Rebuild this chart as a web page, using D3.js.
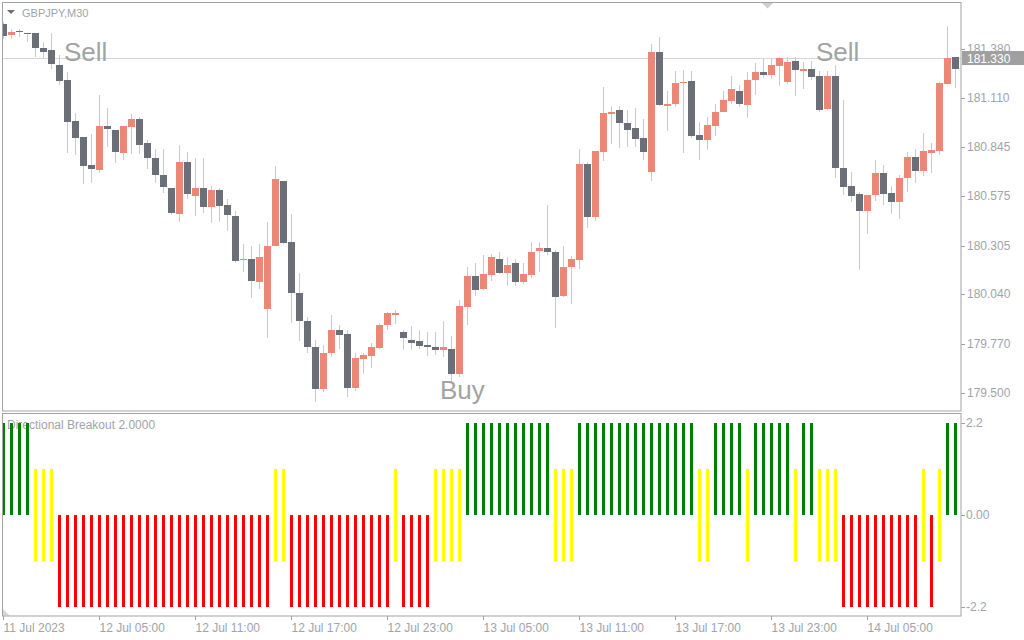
<!DOCTYPE html>
<html><head><meta charset="utf-8">
<script src="https://cdn.jsdelivr.net/npm/d3@7"></script>
<style>
body{margin:0;background:#fff}
svg{display:block}
text{font-family:"Liberation Sans",Arial,sans-serif}
</style>
</head><body>
<svg id="chart" width="1024" height="640"></svg>
<script>
// ---------------- DATA ----------------
const symbolLabel = "GBPJPY,M30";
const indicatorLabel = "Directional Breakout 2.0000";
const firstBarTime = "2023-07-11T23:00";   // M30 bars

const open = [
181.514,181.455,181.481,181.470,181.465,181.388,181.377,181.295,181.208,180.984,
180.898,180.745,180.718,180.957,180.940,180.811,180.953,181.000,180.864,180.787,
180.690,180.623,180.477,180.760,180.576,180.623,180.515,180.612,180.525,180.470,
180.226,180.235,180.106,179.958,180.302,180.661,180.323,180.049,179.896,179.754,
179.521,179.718,179.847,179.820,179.526,179.685,179.701,179.745,179.871,179.924,
179.836,179.787,179.782,179.760,179.754,179.734,179.743,179.603,179.969,180.137,
180.067,180.144,180.235,180.155,180.208,180.106,180.144,180.275,180.290,180.273,
180.029,180.188,180.226,180.754,180.461,180.816,181.024,181.044,180.978,180.946,
180.891,180.707,181.361,181.071,181.082,181.193,181.204,180.909,180.882,180.958,
181.035,181.095,181.153,181.073,181.208,181.257,181.237,181.286,181.199,181.317,
181.259,181.273,181.230,181.051,181.235,180.729,180.629,180.586,180.494,180.581,
180.700,180.592,180.543,180.674,180.789,180.712,180.811,180.822,181.188,181.334];

const high = [
181.525,181.492,181.492,181.470,181.465,181.416,181.470,181.345,181.253,181.028,
180.898,180.913,181.126,181.059,180.940,180.957,181.024,181.006,180.885,180.831,
180.831,180.623,180.858,180.816,180.783,180.783,180.629,180.623,180.558,180.497,
180.312,180.301,180.312,180.437,180.743,180.661,180.476,180.155,179.914,179.787,
179.760,179.924,179.869,179.847,179.716,179.718,179.771,179.882,179.940,179.951,
179.842,179.864,179.842,179.831,179.831,179.896,179.814,180.006,180.188,180.213,
180.252,180.257,180.268,180.241,180.235,180.208,180.323,180.323,180.530,180.279,
180.301,180.246,180.831,180.760,180.820,181.170,181.066,181.071,181.044,181.060,
181.000,181.410,181.443,181.148,181.259,181.263,181.259,180.980,181.007,181.077,
181.149,181.230,181.181,181.257,181.306,181.324,181.324,181.339,181.339,181.339,
181.308,181.312,181.259,181.259,181.295,181.104,180.707,180.597,180.581,180.776,
180.745,180.634,180.690,180.816,180.832,180.920,180.865,181.199,181.505,181.334];

const low = [
181.432,181.432,181.448,181.416,181.335,181.332,181.273,181.181,180.814,180.798,
180.641,180.645,180.705,180.842,180.756,180.776,180.805,180.805,180.725,180.647,
180.592,180.472,180.434,180.558,180.466,180.486,180.428,180.434,180.384,180.213,
180.160,180.018,180.067,179.800,180.302,180.312,179.882,179.783,179.718,179.450,
179.504,179.696,179.739,179.477,179.510,179.603,179.636,179.739,179.843,179.876,
179.734,179.734,179.739,179.701,179.707,179.696,179.554,179.590,179.871,180.029,
180.062,180.111,180.149,180.084,180.084,180.098,180.126,180.160,180.252,179.854,
180.022,179.985,180.177,180.401,180.439,180.767,180.860,180.838,180.843,180.843,
180.772,180.658,181.067,180.931,181.062,180.811,180.891,180.772,180.827,180.907,
181.033,181.082,181.062,181.002,181.126,181.220,181.217,181.179,181.191,181.122,
181.164,181.213,181.038,181.044,180.674,180.583,180.543,180.171,180.368,180.547,
180.525,180.477,180.450,180.597,180.647,180.685,180.701,180.800,181.188,181.166];

const close = [
181.450,181.474,181.472,181.465,181.384,181.366,181.297,181.204,180.980,180.893,
180.740,180.723,180.957,180.942,180.816,180.957,181.000,180.854,180.782,180.690,
180.625,180.483,180.760,180.589,180.623,180.515,180.612,180.521,180.472,180.220,
180.235,180.111,180.241,180.306,180.667,180.319,180.045,179.892,179.750,179.521,
179.721,179.847,179.816,179.526,179.689,179.710,179.754,179.874,179.935,179.935,
179.800,179.772,179.756,179.750,179.734,179.749,179.603,179.973,180.137,180.062,
180.148,180.241,180.155,180.202,180.106,180.148,180.273,180.295,180.270,180.024,
180.186,180.230,180.754,180.461,180.820,181.028,181.038,180.975,180.936,180.887,
180.816,181.361,181.073,181.077,181.195,181.199,180.902,180.882,180.962,181.038,
181.099,181.159,181.078,181.213,181.257,181.237,181.290,181.330,181.308,181.264,
181.273,181.226,181.044,181.235,180.729,180.625,180.579,180.494,180.581,180.700,
180.589,180.543,180.674,180.789,180.712,180.822,180.827,181.193,181.330,181.270];

// Directional Breakout state per bar: G = up breakout, Y = neutral, R = down breakout
const breakoutState = ("GGGG YYY RRRRRRRRRRRRRRRRRRRRRRRRRRR YY RRRRRRRRRRRRR Y RRRR YYYY " +
  "GGGGGGGGGGG YYY GGGGGGGGGGGGGGG YY GGGG Y GGGGG Y GG YYY RRRRRRRRRR Y R Y GG")
  .replace(/ /g, "").split("");
const breakoutUp = 2.2, breakoutNeutral = 1.1, breakoutDown = -2.2;

const bidPrice = 181.330;
const priceTicks = [181.380, 181.110, 180.845, 180.575, 180.305, 180.040, 179.770, 179.500];
const indTicks = [2.2, 0, -2.2];
const indTickLabels = ["2.2", "0.00", "-2.2"];
const timeTicks = ["2023-07-11T23:00","2023-07-12T05:00","2023-07-12T11:00","2023-07-12T17:00",
  "2023-07-12T23:00","2023-07-13T05:00","2023-07-13T11:00","2023-07-13T17:00",
  "2023-07-13T23:00","2023-07-14T05:00"];
const timeTickLabels = ["11 Jul 2023","12 Jul 05:00","12 Jul 11:00","12 Jul 17:00",
  "12 Jul 23:00","13 Jul 05:00","13 Jul 11:00","13 Jul 17:00","13 Jul 23:00","14 Jul 05:00"];
const signals = [
  {text: "Sell", time: "2023-07-12T03:00", price: 181.315},
  {text: "Sell", time: "2023-07-14T02:00", price: 181.315},
  {text: "Buy",  time: "2023-07-13T02:30", price: 179.465}
];

// ---------------- STYLE ----------------
const C = {
  bear: "#6b6f77", bull: "#ee8676", wick: "#c9cbd3", border: "#a3a3a3",
  label: "#a0a3aa", signal: "#a3a3a3", bid: "#d6d6da",
  G: "#008000", Y: "#ffff00", R: "#ff0000"
};

// ---------------- SCALES ----------------
const fmt = d3.timeFormat("%Y-%m-%dT%H:%M");
const t0 = d3.timeParse("%Y-%m-%dT%H:%M")(firstBarTime);
const times = open.map((_, i) => fmt(d3.timeMinute.offset(t0, 30 * i)));
const bars = times.map((t, i) => ({t, o: open[i], h: high[i], l: low[i], c: close[i], s: breakoutState[i]}));

const x = d3.scaleBand().domain(times).range([0, 960]);
const xc = t => x(t) + x.bandwidth() / 2 - 0.5;
const y = d3.scaleLinear().domain([179.5, 181.38]).rangeRound([393, 49]);
const yi = d3.scaleLinear().domain([-2.2, 2.2]).rangeRound([607, 423]);

const svg = d3.select("#chart");
svg.append("rect").attr("width", 1024).attr("height", 640).attr("fill", "#fff");

svg.append("defs").call(d => {
  d.append("clipPath").attr("id", "mainClip").append("rect").attr("x", 3).attr("y", 3).attr("width", 958).attr("height", 408);
  d.append("clipPath").attr("id", "indClip").append("rect").attr("x", 3).attr("y", 414).attr("width", 958).attr("height", 202);
});

// ---------------- MAIN PANEL ----------------
const main = svg.append("g").attr("clip-path", "url(#mainClip)");
main.append("line").attr("x1", 2).attr("x2", 961)
  .attr("y1", y(bidPrice) + 0.5).attr("y2", y(bidPrice) + 0.5)
  .attr("stroke", C.bid).attr("stroke-width", 1);

main.selectAll("rect.wick").data(bars).join("rect").attr("class", "wick")
  .attr("x", d => xc(d.t) - 0.5).attr("width", 1)
  .attr("y", d => y(d.h)).attr("height", d => Math.max(1, y(d.l) - y(d.h)))
  .attr("fill", C.wick);

main.selectAll("rect.body").data(bars).join("rect").attr("class", "body")
  .attr("x", d => x(d.t)).attr("width", 7)
  .attr("y", d => y(Math.max(d.o, d.c)))
  .attr("height", d => Math.max(1, y(Math.min(d.o, d.c)) - y(Math.max(d.o, d.c))))
  .attr("fill", d => d.c >= d.o ? C.bull : C.bear);

main.selectAll("text.sig").data(signals).join("text").attr("class", "sig")
  .attr("x", d => x(d.time)).attr("y", d => y(d.price))
  .attr("font-size", 26).attr("fill", C.signal).text(d => d.text);

// header
svg.append("path").attr("d", "M7,10 L15,10 L11,14 Z").attr("fill", C.bear);
svg.append("text").attr("x", 22).attr("y", 16.5).attr("font-size", 11).attr("fill", C.label).text(symbolLabel);
// chart shift marker
svg.append("path").attr("d", "M762,3 L773,3 L767.5,8.5 Z").attr("fill", "#cfcfd3");

// border
svg.append("rect").attr("x", 2.5).attr("y", 2.5).attr("width", 958.5).attr("height", 408.5)
  .attr("fill", "none").attr("stroke", C.border);

// price axis
const pa = svg.append("g").attr("transform", "translate(961,0)")
  .call(d3.axisRight(y).tickValues(priceTicks).tickFormat(d3.format(".3f")).tickSize(4).tickPadding(2));
pa.select(".domain").remove();
pa.selectAll("line").attr("stroke", C.border);
pa.selectAll("text").attr("fill", C.label).attr("font-size", 12).attr("font-family", "Liberation Sans, Arial, sans-serif").attr("dy", "0.28em");

// bid price label
svg.append("rect").attr("x", 962).attr("y", y(bidPrice) - 7).attr("width", 62).attr("height", 14).attr("fill", "#a0a0a0");
svg.append("text").attr("x", 967).attr("y", y(bidPrice) + 5).attr("font-size", 12).attr("fill", "#fff")
  .text(d3.format(".3f")(bidPrice));

// ---------------- INDICATOR PANEL ----------------
svg.append("text").attr("x", 7).attr("y", 429).attr("font-size", 12).attr("fill", C.label).text(indicatorLabel);

const ind = svg.append("g").attr("clip-path", "url(#indClip)");
const histTop = s => s === "G" ? yi(breakoutUp) : s === "Y" ? yi(breakoutNeutral) : yi(0);
const histBot = s => s === "G" ? yi(0) : s === "Y" ? yi(-breakoutNeutral) : yi(breakoutDown);
ind.selectAll("rect.hist").data(bars).join("rect").attr("class", "hist")
  .attr("x", d => xc(d.t) - 1.5).attr("width", 3)
  .attr("y", d => histTop(d.s)).attr("height", d => histBot(d.s) - histTop(d.s))
  .attr("fill", d => C[d.s]);

svg.append("path").attr("d", "M3,609 L3,615.5 L9.5,615.5 Z").attr("fill", "#d6d6dc");
svg.append("rect").attr("x", 2.5).attr("y", 413.5).attr("width", 958.5).attr("height", 202.5)
  .attr("fill", "none").attr("stroke", C.border);

const ia = svg.append("g").attr("transform", "translate(961,0)")
  .call(d3.axisRight(yi).tickValues(indTicks).tickFormat((d, i) => indTickLabels[i]).tickSize(4).tickPadding(1));
ia.select(".domain").remove();
ia.selectAll("line").attr("stroke", C.border);
ia.selectAll("text").attr("fill", C.label).attr("font-size", 12).attr("font-family", "Liberation Sans, Arial, sans-serif").attr("dy", "0.28em");

// time axis
const ta = svg.append("g").attr("transform", "translate(-0.5,616)")
  .call(d3.axisBottom(x).tickValues(timeTicks).tickFormat((d, i) => timeTickLabels[i]).tickSize(4).tickSizeOuter(0).tickPadding(3));
ta.select(".domain").remove();
ta.selectAll("line").attr("stroke", C.border);
ta.selectAll("text").attr("fill", C.label).attr("font-size", 12).attr("font-family", "Liberation Sans, Arial, sans-serif")
  .attr("text-anchor", "start").attr("x", 0);
</script>
</body></html>
